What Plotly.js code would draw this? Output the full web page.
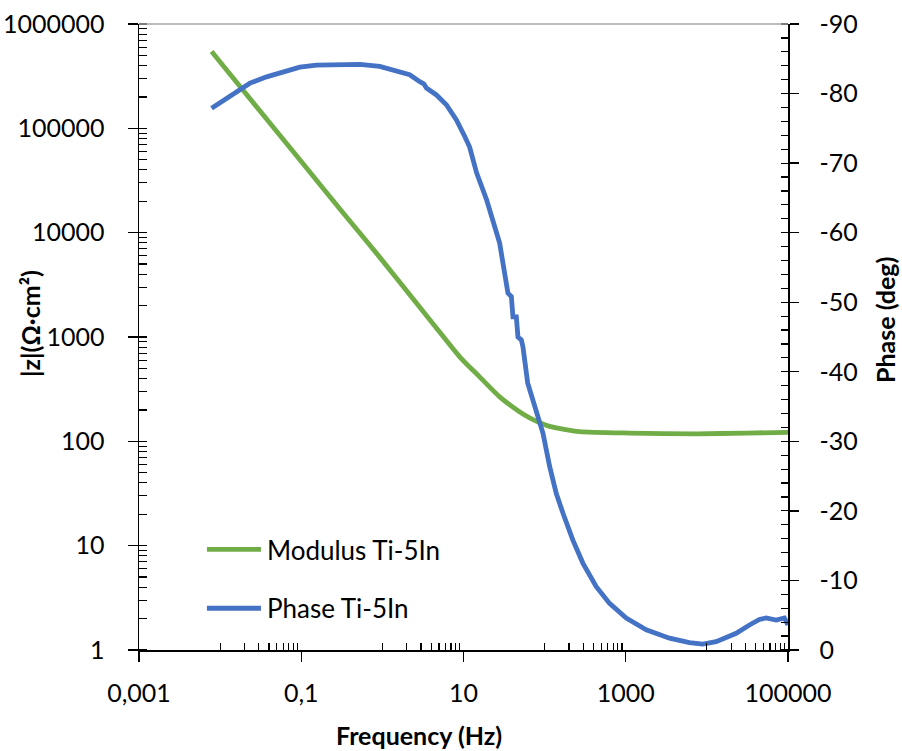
<!DOCTYPE html>
<html>
<head>
<meta charset="utf-8">
<script src="https://cdn.plot.ly/plotly-3.0.1.min.js"></script>
<style>
  html, body { margin: 0; padding: 0; background: #ffffff; }
  #chart { width: 902px; height: 751px; }
</style>
</head>
<body>
<div id="chart"></div>
<script>
// ---- data ----
const modulusFreq = [0.00785, 0.0175, 0.1, 0.325, 0.93, 2.0, 4.18, 8.97, 15.8, 27.9, 49, 65.3, 115, 270, 1114, 7380, 30500, 100000];
const modulusZ    = [546000, 253000, 48000, 15600, 5800, 2760, 1350, 646, 415, 267, 192, 168, 139, 124, 120, 118, 120, 122];

const phaseFreq = [0.00785, 0.0086, 0.00995, 0.0145, 0.0233, 0.0374, 0.0598, 0.0961, 0.154, 0.299, 0.527, 0.929, 1.49, 2.17, 2.89, 3.24, 3.49, 4.64, 6.15, 8.18, 10.4, 11.9, 14.5, 19.3, 27.9, 35.3, 38.9, 40.7, 44.8, 46.9, 51.6, 54.0, 61.8, 71.1, 86.7, 95.3, 115.3, 139.3, 168, 223, 296, 433, 631, 1014, 1788, 3460, 6100, 8900, 13000, 23000, 33500, 44400, 53700, 71300, 90300, 100000];
const phaseDeg  = [-77.9, -78.2, -78.8, -80.0, -81.5, -82.4, -83.1, -83.8, -84.1, -84.2, -84.2, -83.9, -83.3, -82.7, -81.7, -81.4, -80.8, -79.8, -78.4, -76.2, -73.8, -72.3, -68.6, -64.7, -58.5, -51.3, -50.8, -47.9, -47.9, -45.0, -44.6, -43.6, -38.4, -35.9, -32.8, -31.2, -26.4, -22.5, -19.7, -15.8, -12.5, -9.1, -6.7, -4.6, -2.9, -1.7, -1.05, -0.86, -1.2, -2.4, -3.6, -4.4, -4.6, -4.3, -4.6, -3.6];

const seriesNames = ["Modulus Ti-5In", "Phase Ti-5In"];

const xTickVals  = [0.001, 0.1, 10, 1000, 100000];
const xTickText  = ["0,001", "0,1", "10", "1000", "100000"];
const yTickVals  = [1, 10, 100, 1000, 10000, 100000, 1000000];
const yTickText  = ["1", "10", "100", "1000", "10000", "100000", "1000000"];
const y2TickVals = [0, -10, -20, -30, -40, -50, -60, -70, -80, -90];
const y2TickText = ["0", "-10", "-20", "-30", "-40", "-50", "-60", "-70", "-80", "-90"];
const minorMult  = [1, 2, 3, 4, 5, 6, 7, 8, 9];

// minor ticks: x -> m*10^odd decade (between majors); y -> 1..9 each decade (major ones cross the axis)
const xMinor = [];
[0.01, 1, 100, 10000].forEach(d => minorMult.forEach(m => xMinor.push(m * d)));
const yMinor = [];
[1, 10, 100, 1000, 10000, 100000].forEach(d => minorMult.forEach(m => yMinor.push(m * d)));
yMinor.push(1000000);
const y2Minor = [];
for (let v = 0; v >= -90; v -= 2) y2Minor.push(v);

const GREEN = "#70AD47", BLUE = "#4472C4";
const FONT = "Lato, 'Open Sans', sans-serif";

const traces = [
  { x: modulusFreq, y: modulusZ, name: seriesNames[0], type: "scatter", mode: "lines",
    line: { color: GREEN, width: 4.8, shape: "spline", smoothing: 0.6 }, xaxis: "x", yaxis: "y", legendgroup: "a" },
  { x: phaseFreq, y: phaseDeg, name: seriesNames[1], type: "scatter", mode: "lines",
    line: { color: BLUE, width: 4.8 }, xaxis: "x", yaxis: "y2", legendgroup: "b" }
];

const axisCommon = {
  showgrid: false, zeroline: false, showline: true, linecolor: "#000", linewidth: 1.5,
  ticks: "outside", tickcolor: "#000", tickwidth: 1.3, ticklen: 10,
  tickfont: { family: FONT, size: 25, color: "#000" }, automargin: false, fixedrange: true
};

const layout = {
  width: 902, height: 751,
  margin: { l: 139, r: 114, t: 24, b: 101 },
  paper_bgcolor: "#fff", plot_bgcolor: "#fff",
  showlegend: true,
  legend: {
    x: 0.097, y: 0.198, xanchor: "left", yanchor: "top",
    font: { family: FONT, size: 26, color: "#000" },
    bgcolor: "rgba(0,0,0,0)", traceorder: "grouped", tracegroupgap: 22
  },
  xaxis: Object.assign({}, axisCommon, {
    type: "log", range: [-3, 5], tickmode: "array", tickvals: xTickVals, ticktext: xTickText,
    ticklabelstandoff: 10,
    minor: { tickmode: "array", tickvals: xMinor, ticks: "inside", ticklen: 7, tickcolor: "#000", tickwidth: 1.2, showgrid: false }
  }),
  yaxis: Object.assign({}, axisCommon, {
    type: "log", range: [0, 6], tickmode: "array", tickvals: yTickVals, ticktext: yTickText,
    ticklabelstandoff: 18,
    minor: { tickmode: "array", tickvals: yMinor, ticks: "inside", ticklen: 8, tickcolor: "#000", tickwidth: 1.2, showgrid: false }
  }),
  yaxis2: Object.assign({}, axisCommon, {
    overlaying: "y", side: "right", range: [0, -90], tickmode: "array", tickvals: y2TickVals, ticktext: y2TickText,
    ticklen: 9, ticklabelstandoff: 16,
    minor: { tickmode: "array", tickvals: y2Minor, ticks: "inside", ticklen: 7, tickcolor: "#000", tickwidth: 1.2, showgrid: false }
  }),
  shapes: [
    { type: "line", xref: "paper", yref: "paper", x0: 0, x1: 1, y0: 1, y1: 1,
      line: { color: "#a6a6a6", width: 1.5 } }
  ],
  annotations: [
    { text: "<b>Frequency (Hz)</b>", xref: "paper", yref: "paper", x: (419 - 139) / 649, y: -(735 - 650) / 626,
      showarrow: false, xanchor: "center", yanchor: "middle", font: { family: FONT, size: 25, color: "#000" } },
    { text: "<b>|z|(Ω·cm²)</b>", xref: "paper", yref: "paper", x: (30 - 139) / 649, y: (650 - 323) / 626,
      showarrow: false, textangle: -90, xanchor: "center", yanchor: "middle", font: { family: FONT, size: 25, color: "#000" } },
    { text: "<b>Phase (deg)</b>", xref: "paper", yref: "paper", x: (885 - 139) / 649, y: (650 - 320) / 626,
      showarrow: false, textangle: -90, xanchor: "center", yanchor: "middle", font: { family: FONT, size: 25, color: "#000" } }
  ],
  hovermode: false
};

Plotly.newPlot("chart", traces, layout, { staticPlot: true, displayModeBar: false }).then(gd => {
  // lengthen the legend line samples to match the reference
  const sb = gd.querySelector(".legend .scrollbox");
  if (sb) sb.removeAttribute("clip-path");
  const lg = gd.querySelector(".legend");
  if (lg) lg.removeAttribute("clip-path");
  gd.querySelectorAll(".legend .traces").forEach(t => {
    const p = t.querySelector(".legendlines path");
    if (p) p.setAttribute("d", "M5,0h54");
    const tx = t.querySelector("text.legendtext");
    if (tx) {
      tx.setAttribute("x", 65);
      tx.querySelectorAll("tspan[x]").forEach(s => s.setAttribute("x", 65));
    }
  });
});
</script>
</body>
</html>
